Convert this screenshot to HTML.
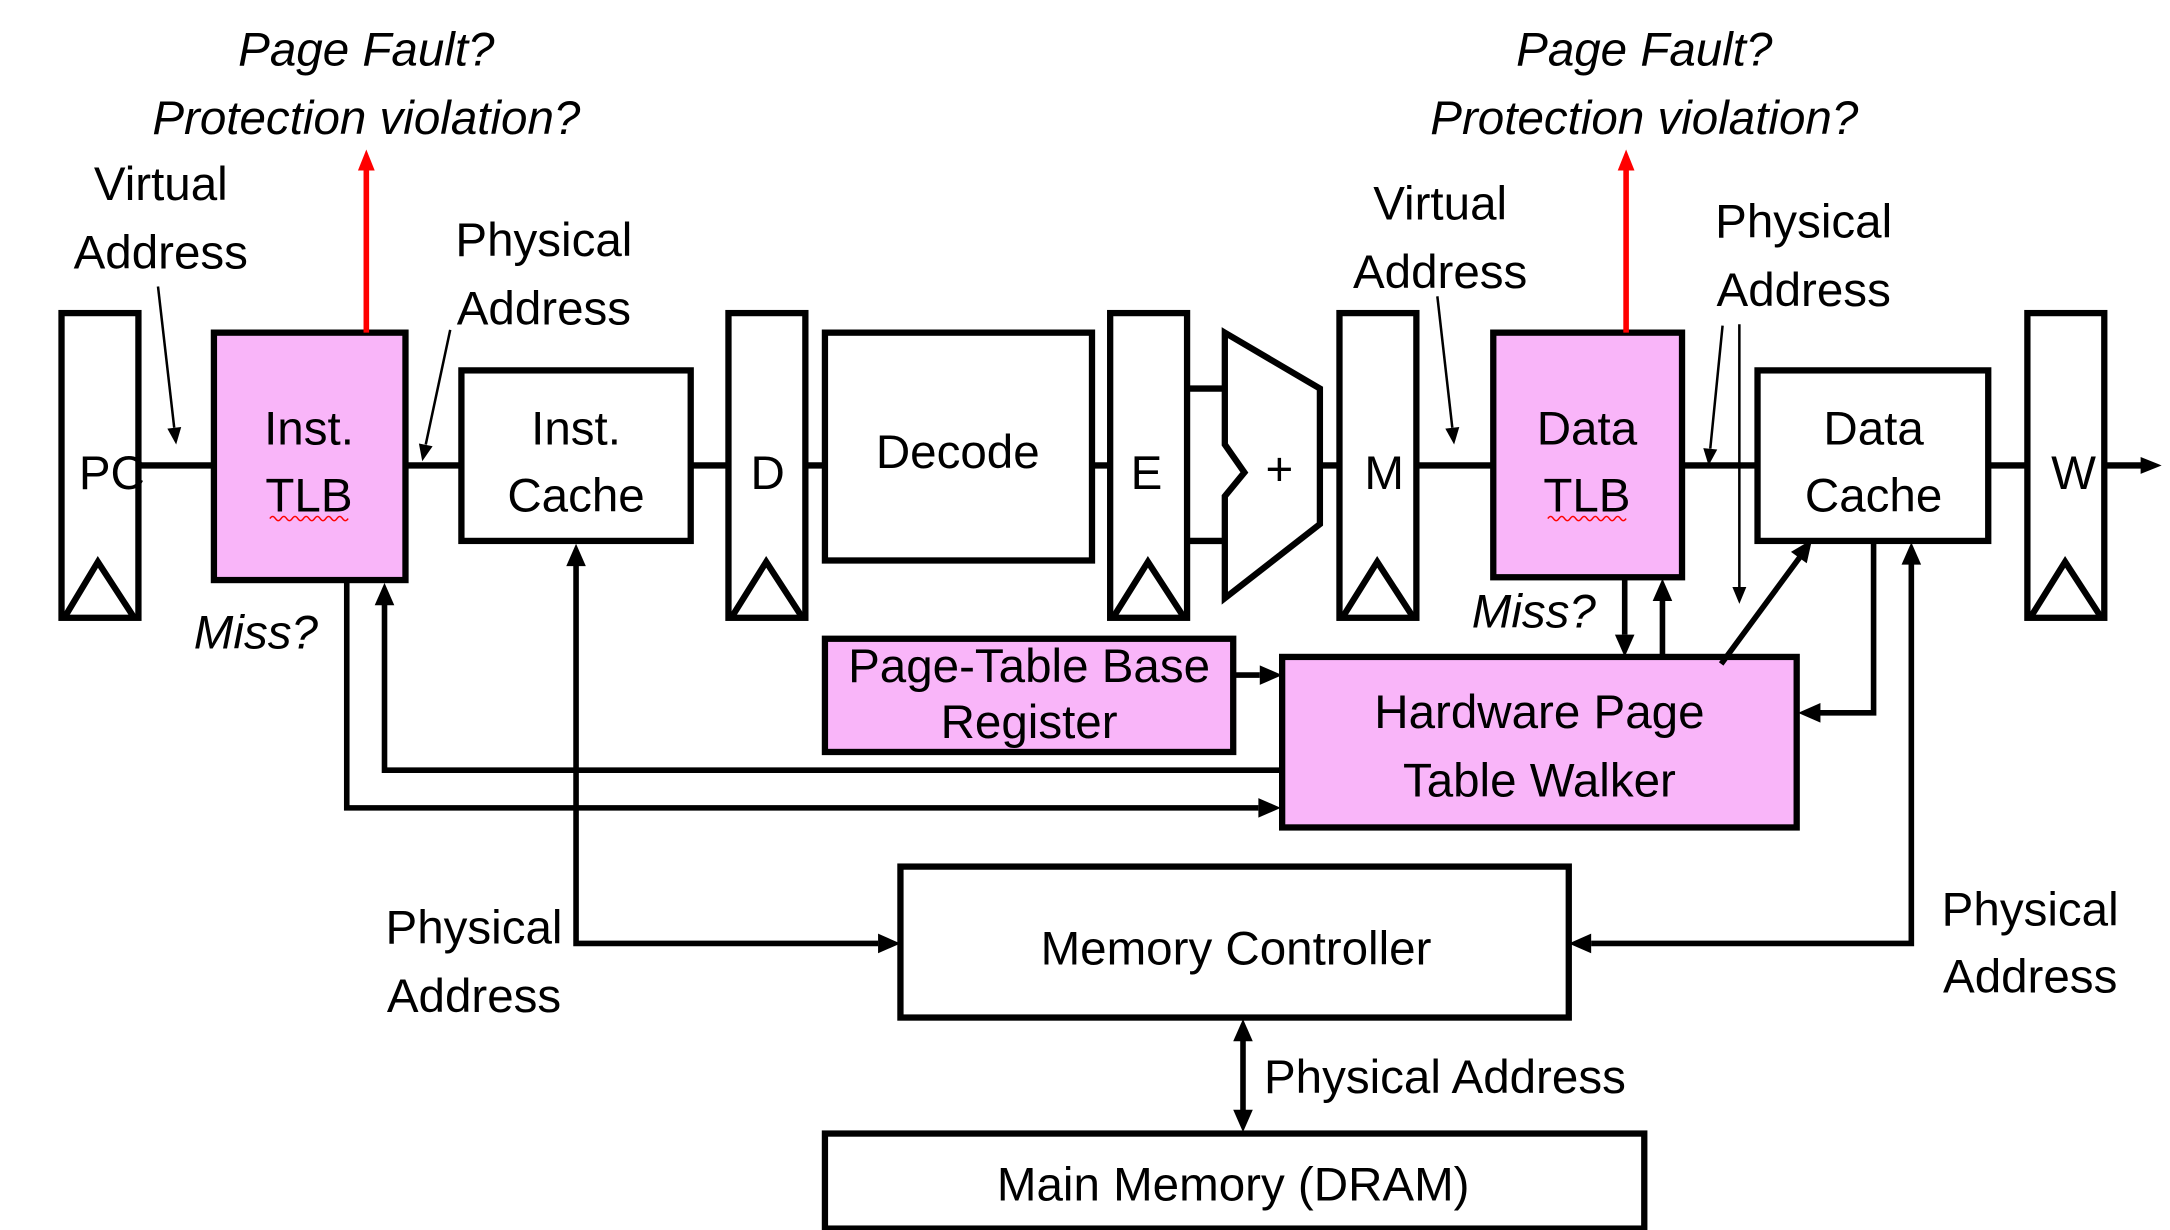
<!DOCTYPE html>
<html><head><meta charset="utf-8"><style>
html,body{margin:0;padding:0;background:#fff;}
svg{display:block;}
text{font-family:"Liberation Sans",sans-serif;font-size:34px;fill:#000;}
.i{font-style:italic;}
</style></head><body>
<svg width="2170" height="1230" viewBox="0 0 1552 880" preserveAspectRatio="none" xmlns="http://www.w3.org/2000/svg">
<g stroke="#000" stroke-width="4.5" fill="none">
<line x1="99" y1="333" x2="153" y2="333"/>
<line x1="290" y1="333" x2="330" y2="333"/>
<line x1="494" y1="333" x2="521" y2="333"/>
<line x1="576" y1="333" x2="590" y2="333"/>
<line x1="781" y1="333" x2="794" y2="333"/>
<line x1="849" y1="278" x2="876" y2="278"/>
<line x1="849" y1="387" x2="876" y2="387"/>
<line x1="944" y1="333" x2="958" y2="333"/>
<line x1="1013" y1="333" x2="1068" y2="333"/>
<line x1="1203" y1="333" x2="1257" y2="333"/>
<line x1="1422" y1="333" x2="1450" y2="333"/>
<line x1="1505" y1="333" x2="1532" y2="333"/>
<rect x="44" y="224" width="55" height="218" fill="#fff"/>
<polyline points="46,442 70,402 96,442"/>
<rect x="521" y="224" width="55" height="218" fill="#fff"/>
<polyline points="523,442 548,402 574,442"/>
<rect x="794" y="224" width="55" height="218" fill="#fff"/>
<polyline points="796,442 821,402 847,442"/>
<rect x="958" y="224" width="55" height="218" fill="#fff"/>
<polyline points="960,442 985,402 1011,442"/>
<rect x="1450" y="224" width="55" height="218" fill="#fff"/>
<polyline points="1452,442 1477,402 1503,442"/>
<rect x="153" y="238" width="137" height="177" fill="#F9B5F9"/>
<rect x="330" y="265" width="164" height="122" fill="#fff"/>
<rect x="590" y="238" width="191" height="163" fill="#fff"/>
<polygon points="876,238 944,278 944,375 876,428 876,355 890,338 876,318" fill="#fff"/>
<rect x="1068" y="238" width="135" height="175" fill="#F9B5F9"/>
<rect x="1257" y="265" width="165" height="122" fill="#fff"/>
<rect x="590" y="457" width="292" height="81" fill="#F9B5F9"/>
<rect x="917" y="470" width="368" height="122" fill="#F9B5F9"/>
<rect x="644" y="620" width="478" height="108" fill="#fff"/>
<rect x="590" y="811" width="586" height="68" fill="#fff"/>
<g stroke-width="4">
<polyline points="248,415 248,578 900,578"/>
<polyline points="917,551 275,551 275,432"/>
<polyline points="628,675 412,675 412,404"/>
<line x1="882" y1="483" x2="901" y2="483"/>
<line x1="1162" y1="415" x2="1162" y2="454"/>
<line x1="1189" y1="470" x2="1189" y2="430"/>
<line x1="1231" y1="475" x2="1287" y2="399"/>
<polyline points="1340,387 1340,510 1301,510"/>
<polyline points="1138,675 1367,675 1367,403"/>
<line x1="889" y1="744" x2="889" y2="795"/>
</g>
<g stroke-width="1.8">
<line x1="113" y1="205" x2="124.6" y2="306"/>
<line x1="322" y1="236" x2="304.5" y2="318"/>
<line x1="1028" y1="212" x2="1038.7" y2="306"/>
<line x1="1232" y1="233" x2="1223.2" y2="321"/>
<line x1="1244" y1="232" x2="1244" y2="420"/>
</g>
</g>
<g fill="#000">
<polygon points="1546,333 1531,327 1531,339"/>
<polygon points="916,578 900,571 900,585"/>
<polygon points="275,417 268,433 282,433"/>
<polygon points="412,389 405,405 419,405"/>
<polygon points="644,675 628,668 628,682"/>
<polygon points="917,483 901,476 901,490"/>
<polygon points="1162,470 1155,454 1169,454"/>
<polygon points="1189,414 1182,430 1196,430"/>
<polygon points="1296,386 1292.2,403 1280.9,394.8"/>
<polygon points="1286,510 1302,503 1302,517"/>
<polygon points="1367,388 1360,404 1374,404"/>
<polygon points="1122,675 1138,668 1138,682"/>
<polygon points="889,729 882,745 896,745"/>
<polygon points="889,810 882,794 896,794"/>
<polygon points="126,318 119.7,306.7 129.6,305.5"/>
<polygon points="302,330 299.6,317.3 309.4,319.3"/>
<polygon points="1040,318 1033.7,306.7 1043.7,305.5"/>
<polygon points="1222,333 1218.2,320.6 1228.2,321.6"/>
<polygon points="1244,432 1239,420 1249,420"/>
</g>
<line x1="262" y1="238" x2="262" y2="120" stroke="#f00" stroke-width="4"/>
<line x1="1163" y1="238" x2="1163" y2="120" stroke="#f00" stroke-width="4"/>
<polygon points="262,107 256,122 268,122" fill="#f00"/>
<polygon points="1163,107 1157,122 1169,122" fill="#f00"/>
<path d="M193,371 q2,-3 4,0 t4,0 t4,0 t4,0 t4,0 t4,0 t4,0 t4,0 t4,0 t4,0 t4,0 t4,0 t4,0 t4,0" stroke="#f00" stroke-width="1" fill="none"/>
<path d="M1107,371 q2,-3 4,0 t4,0 t4,0 t4,0 t4,0 t4,0 t4,0 t4,0 t4,0 t4,0 t4,0 t4,0 t4,0 t4,0" stroke="#f00" stroke-width="1" fill="none"/>
<g text-anchor="middle">
<text x="262" y="47" class="i">Page Fault?</text>
<text x="262" y="96" class="i">Protection violation?</text>
<text x="1176" y="47" class="i">Page Fault?</text>
<text x="1176" y="96" class="i">Protection violation?</text>
<text x="115" y="143">Virtual</text>
<text x="115" y="192">Address</text>
<text x="389" y="183">Physical</text>
<text x="389" y="232">Address</text>
<text x="1030" y="157">Virtual</text>
<text x="1030" y="206">Address</text>
<text x="1290" y="170">Physical</text>
<text x="1290" y="219">Address</text>
<text x="80" y="350">PC</text>
<text x="221" y="318">Inst.</text>
<text x="221" y="366">TLB</text>
<text x="412" y="318">Inst.</text>
<text x="412" y="366">Cache</text>
<text x="549" y="350">D</text>
<text x="685" y="335">Decode</text>
<text x="820" y="350">E</text>
<text x="915" y="347">+</text>
<text x="990" y="350">M</text>
<text x="1135" y="318">Data</text>
<text x="1135" y="366">TLB</text>
<text x="1340" y="318">Data</text>
<text x="1340" y="366">Cache</text>
<text x="1483" y="350">W</text>
<text x="183" y="464" class="i">Miss?</text>
<text x="1097" y="449" class="i">Miss?</text>
<text x="736" y="488">Page-Table Base</text>
<text x="736" y="528">Register</text>
<text x="1101" y="521">Hardware Page</text>
<text x="1101" y="570">Table Walker</text>
<text x="339" y="675">Physical</text>
<text x="339" y="724">Address</text>
<text x="1452" y="662">Physical</text>
<text x="1452" y="710">Address</text>
<text x="884" y="690">Memory Controller</text>
<text x="882" y="859">Main Memory (DRAM)</text>
</g>
<text x="904" y="782">Physical Address</text>
</svg>
</body></html>
